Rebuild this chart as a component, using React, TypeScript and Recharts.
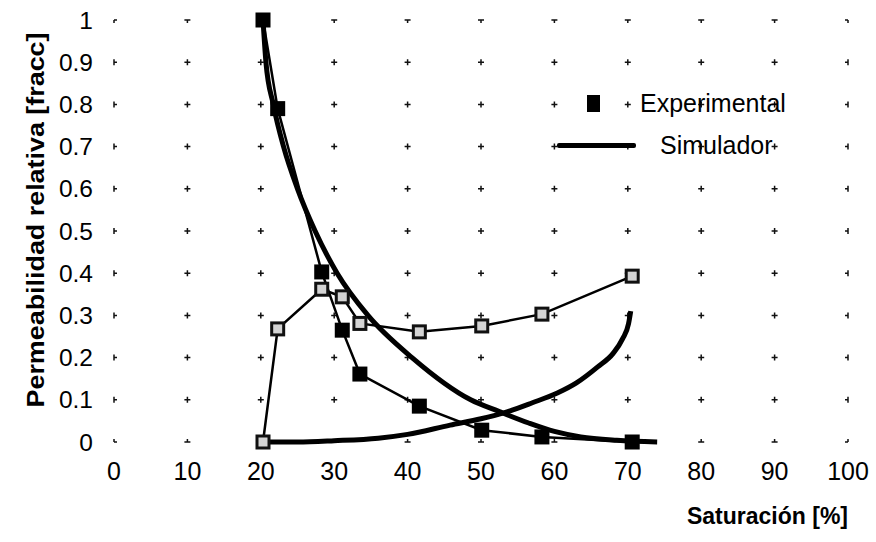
import React from 'react';
import { LineChart, Line, XAxis, YAxis, CartesianGrid, Label } from 'recharts';

const xTicks = [0, 10, 20, 30, 40, 50, 60, 70, 80, 90, 100];
const yTicks = [0, 0.1, 0.2, 0.3, 0.4, 0.5, 0.6, 0.7, 0.8, 0.9, 1];

// Experimental measurements (saturation %)
const expX = [20.3, 22.3, 28.3, 31.1, 33.5, 41.6, 50.1, 58.3, 70.6];
const expFilled = [1.0, 0.79, 0.403, 0.265, 0.161, 0.085, 0.028, 0.012, 0.0];
const expHollow = [0.0, 0.268, 0.362, 0.344, 0.281, 0.261, 0.275, 0.303, 0.393];

// Simulator curves
const simDecX = [20.3, 20.7, 21.7, 23.1, 25.0, 27.4, 30.4, 34.6, 40.6, 48.6, 52.5, 56.5, 60.0, 63.6, 68.5, 74.0];
const simDecY = [1.0, 0.9, 0.8, 0.7, 0.6, 0.5, 0.4, 0.3, 0.2, 0.1, 0.072, 0.045, 0.025, 0.012, 0.004, 0.0];
const simIncX = [20.3, 25, 30, 36, 40, 45.8, 50, 53.1, 57, 60.4, 63, 65.9, 68, 69.3, 70.1, 70.4];
const simIncY = [0.0, 0.0, 0.003, 0.009, 0.018, 0.04, 0.055, 0.069, 0.093, 0.116, 0.14, 0.178, 0.21, 0.245, 0.28, 0.31];

const filledData = expX.map((x, i) => ({ x, y: expFilled[i] }));
const hollowData = expX.map((x, i) => ({ x, y: expHollow[i] }));
const decData = simDecX.map((x, i) => ({ x, y: simDecY[i] }));
const incData = simIncX.map((x, i) => ({ x, y: simIncY[i] }));

const FONT = '"Liberation Sans", Arial, sans-serif';

const FilledDot = (props: any) => {
  const { cx, cy } = props;
  if (cx == null || cy == null) return null;
  return <rect x={cx - 7.5} y={cy - 7.5} width={15} height={15} fill="#000" />;
};

const HollowDot = (props: any) => {
  const { cx, cy } = props;
  if (cx == null || cy == null) return null;
  return <rect x={cx - 6} y={cy - 6} width={12} height={12} fill="#d4d4d4" stroke="#111" strokeWidth={3} />;
};

const XTick = (props: any) => {
  const { x, y, payload } = props;
  return (
    <text x={x} y={y} dy="0.71em" textAnchor="middle" fontFamily={FONT} fontSize={25} fill="#000">
      {payload.value}
    </text>
  );
};

const LegendBox = () => (
  <div style={{ position: 'absolute', left: 550, top: 85, width: 280, height: 80, fontFamily: FONT, fontSize: 25, color: '#000' }}>
    <div style={{ position: 'absolute', left: 37, top: 10, width: 13, height: 17, background: '#000' }} />
    <div style={{ position: 'absolute', left: 90, top: 4, lineHeight: '28px' }}>Experimental</div>
    <div style={{ position: 'absolute', left: 7, top: 58, width: 79, height: 5, background: '#000', borderRadius: 2 }} />
    <div style={{ position: 'absolute', left: 110, top: 46, lineHeight: '28px' }}>Simulador</div>
  </div>
);

export default function App() {
  return (
    <div style={{ position: 'absolute', left: 0, top: 0, width: 876, height: 542, background: '#fff' }}>
      <LineChart width={876} height={542} margin={{ top: 20, right: 28, left: 0, bottom: 0 }}>
        <CartesianGrid
          horizontal={false}
          vertical={true}
          stroke="#111"
          strokeWidth={1.5}
          strokeDasharray="6 36.2"
          strokeDashoffset={3}
        />
        <CartesianGrid
          horizontal={true}
          vertical={false}
          stroke="#111"
          strokeWidth={1.5}
          strokeDasharray="6 67.4"
          strokeDashoffset={3}
        />
        <XAxis
          type="number"
          dataKey="x"
          domain={[0, 100]}
          ticks={xTicks}
          axisLine={false}
          tickLine={false}
          tickMargin={14}
          height={100}
          tick={<XTick />}
          interval={0}
        >
          <Label
            content={() => (
              <text x={848} y={524} textAnchor="end" fontFamily={FONT} fontSize={23} fontWeight="bold" fill="#000">
                Saturación [%]
              </text>
            )}
          />
        </XAxis>
        <YAxis
          type="number"
          domain={[0, 1]}
          ticks={yTicks}
          axisLine={false}
          tickLine={false}
          tickMargin={15}
          width={114}
          tick={{ fontSize: 24.5, fill: '#000', fontFamily: FONT }}
          interval={0}
        >
          <Label
            content={() => (
              <text
                x={0}
                y={0}
                transform="translate(44 220) rotate(-90)"
                textAnchor="middle"
                fontFamily={FONT}
                fontSize={23}
                fontWeight="bold"
                fill="#000"
                textLength={375}
                lengthAdjust="spacingAndGlyphs"
              >
                Permeabilidad relativa [fracc]
              </text>
            )}
          />
        </YAxis>
        <Line data={decData} dataKey="y" type="monotone" stroke="#000" strokeWidth={5} dot={false} isAnimationActive={false} />
        <Line data={incData} dataKey="y" type="monotone" stroke="#000" strokeWidth={5} dot={false} isAnimationActive={false} />
        <Line data={hollowData} dataKey="y" type="linear" stroke="#000" strokeWidth={2.5} dot={<HollowDot />} isAnimationActive={false} />
        <Line data={filledData} dataKey="y" type="linear" stroke="#000" strokeWidth={2.5} dot={<FilledDot />} isAnimationActive={false} />
      </LineChart>
      <LegendBox />
    </div>
  );
}
